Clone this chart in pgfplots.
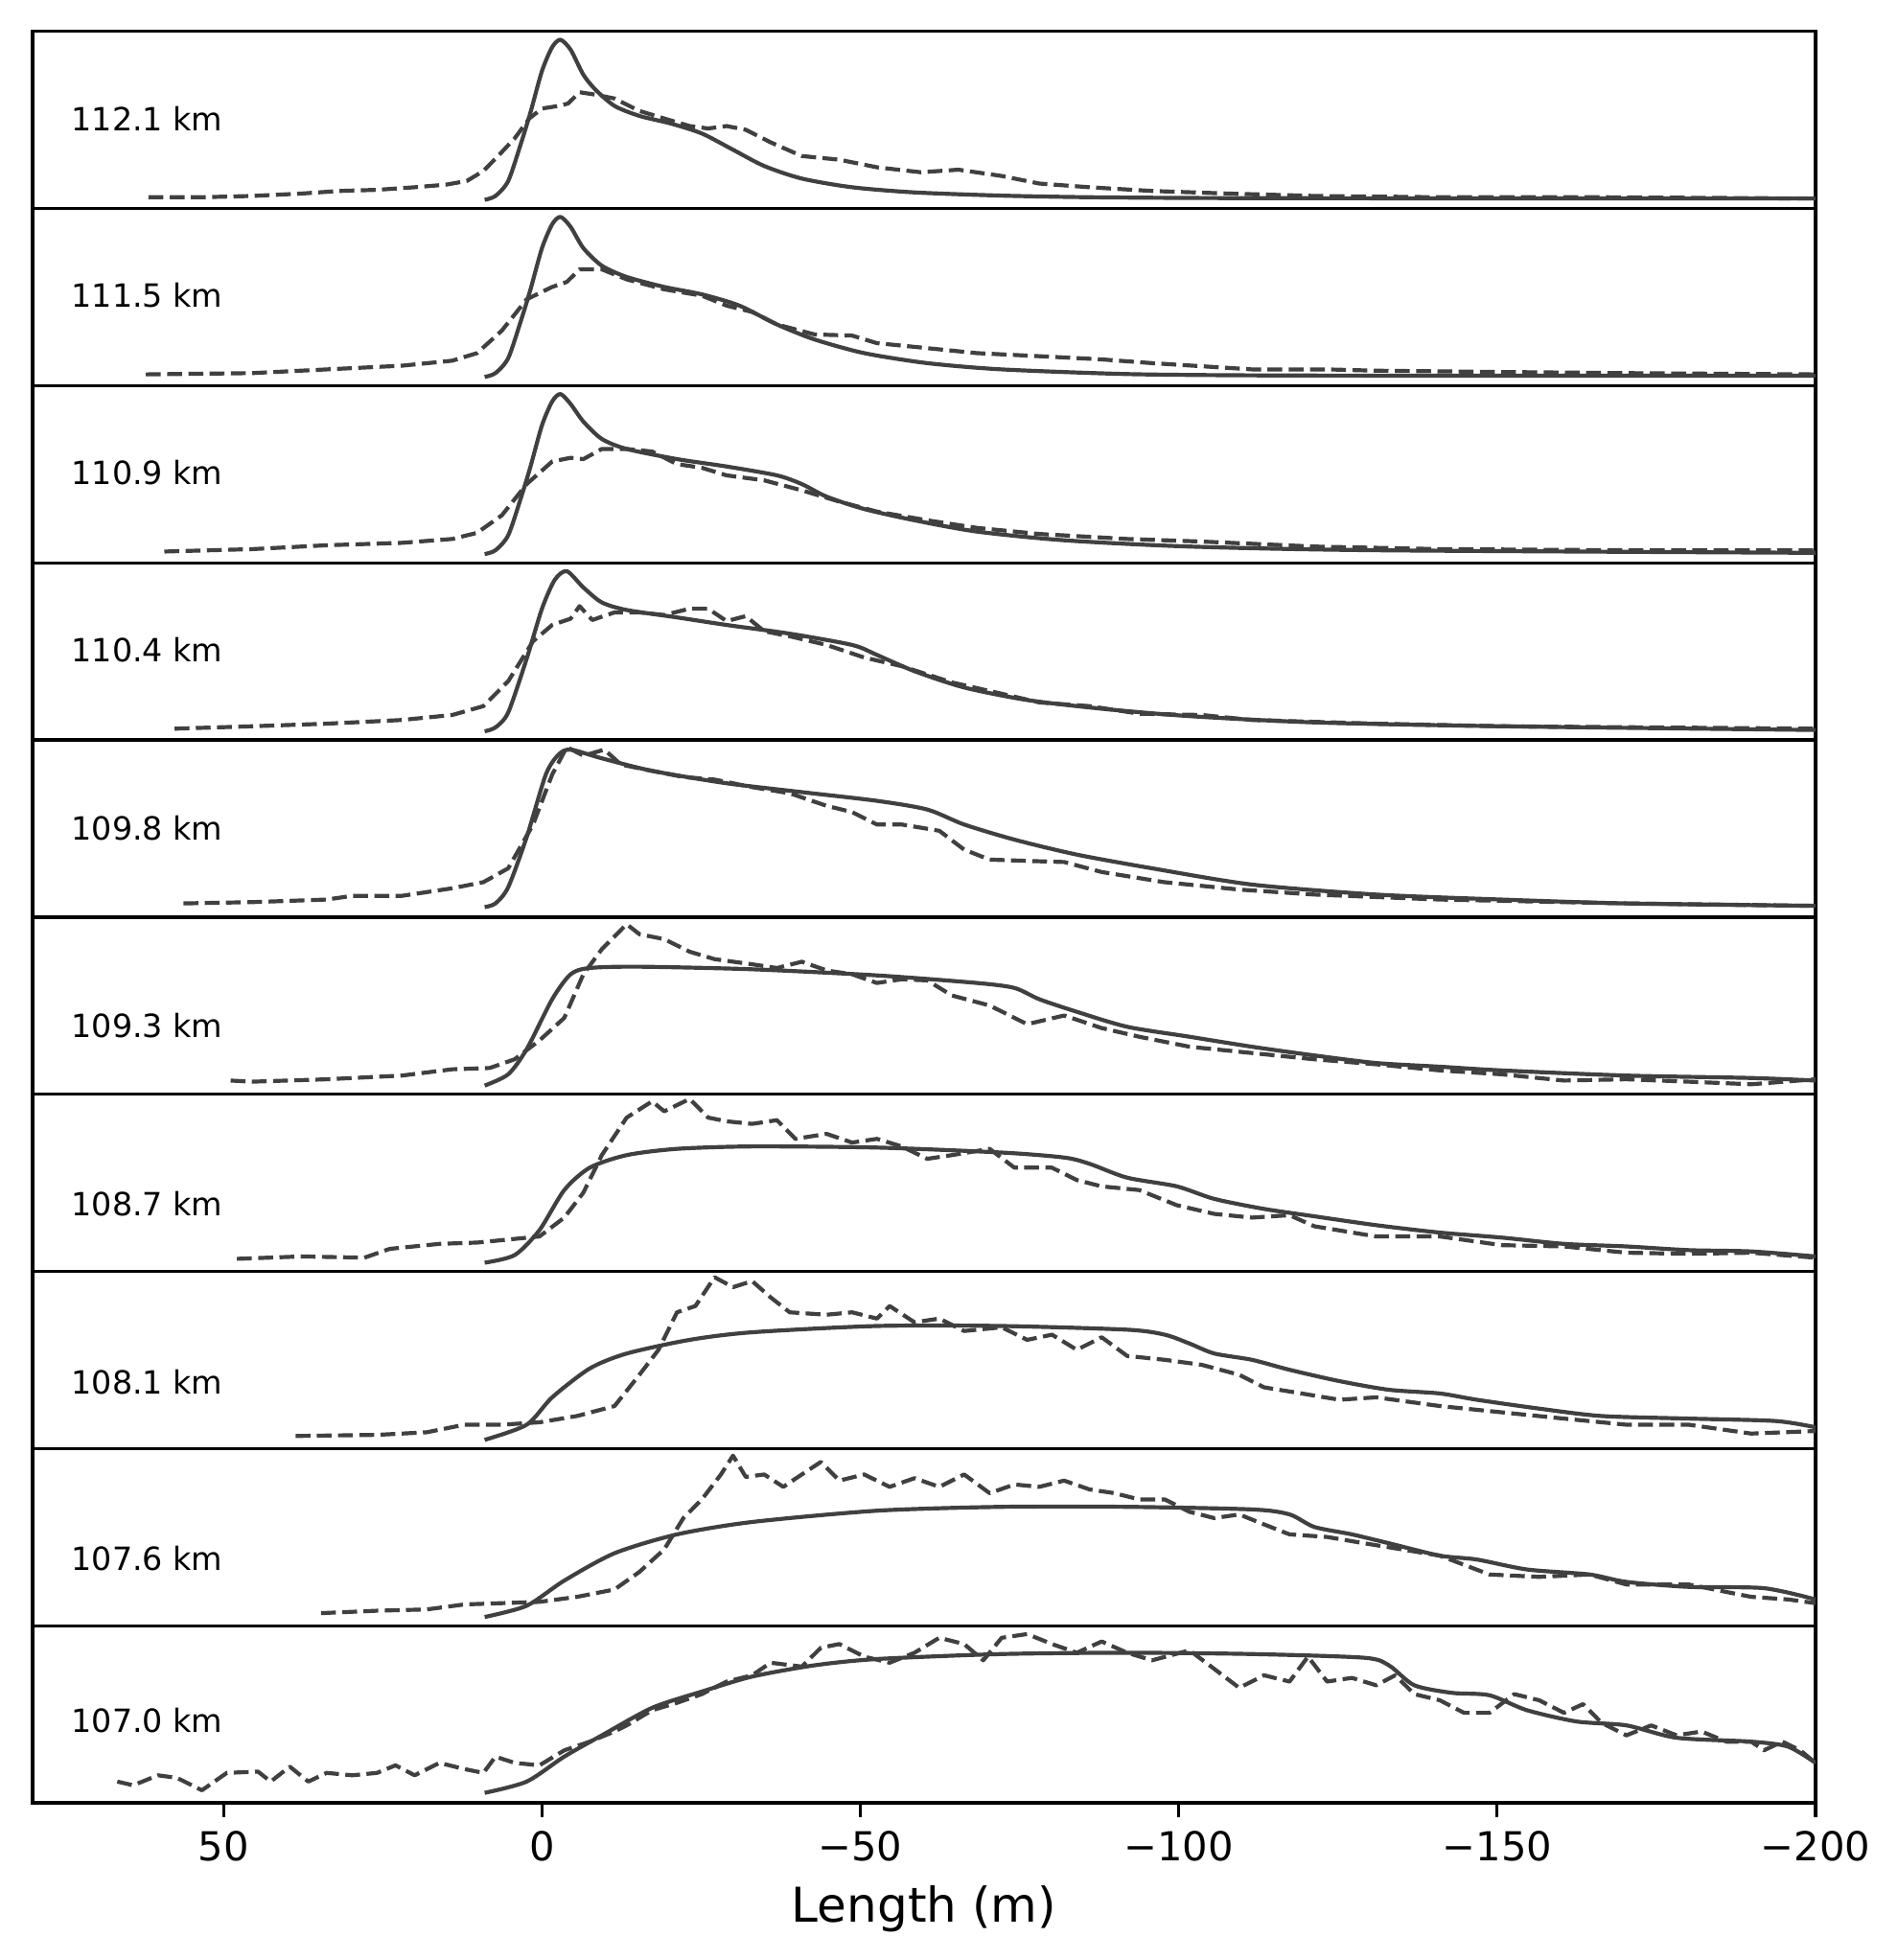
\documentclass[border=0pt]{standalone}
\usepackage{fontspec}
\setmainfont{DejaVu Sans}
\usepackage{pgfplots}
\pgfplotsset{compat=1.18}
\newcommand{\labfont}{\fontsize{8}{9.6}\selectfont}
\tikzset{lab/.style={anchor=west, inner sep=0pt, font=\labfont, text=black}}
\pgfplotsset{
  panel/.style={width=446.4pt, height=44.36pt, scale only axis,
    xmin=-200, xmax=80, x dir=reverse, ymin=-0.05, ymax=1.05,
    xtick=\empty, ytick=\empty, axis line style={line width=0.8bp, black},
    anchor=north west},
  sol/.style={color=black!75, line width=1bp, line join=round, mark=none, smooth, tension=0.45},
  das/.style={color=black!75, line width=1bp, line join=round, mark=none, dash pattern=on 3.7bp off 1.6bp}
}
\begin{document}
\begin{tikzpicture}
\begin{pgfinterruptboundingbox}
% ---------- 112.1 km
\begin{axis}[panel, at={(0pt,0pt)}]
\addplot[sol] coordinates {(9.0,0.004)(7.3,0.028)(5.3,0.121)(3.3,0.354)(1.8,0.548)(0,0.804)(-1.6,0.952)(-2.9,0.998)(-4.5,0.936)(-6.5,0.781)(-8.4,0.688)(-11.4,0.587)(-15.3,0.525)(-20.2,0.478)(-25.1,0.416)(-30,0.315)(-34.9,0.214)(-40.8,0.136)(-48.7,0.082)(-58.5,0.050)(-72.2,0.030)(-86,0.020)(-105,0.015)(-140,0.013)(-200,0.012)};
\addplot[das] coordinates {(61.8,0.020)(53.4,0.020)(45.5,0.028)(37.7,0.043)(31.8,0.059)(25.9,0.066)(20,0.082)(15.1,0.098)(11.8,0.121)(9.2,0.183)(6.9,0.276)(4.3,0.385)(2,0.509)(0,0.571)(-2.6,0.587)(-4.1,0.602)(-5.9,0.672)(-8.4,0.657)(-11.4,0.633)(-15.3,0.556)(-19.2,0.509)(-23.2,0.462)(-26.1,0.447)(-29,0.462)(-32,0.439)(-35.9,0.361)(-40.8,0.276)(-46.7,0.253)(-52.6,0.206)(-59.5,0.175)(-65.4,0.191)(-72.2,0.152)(-78.1,0.105)(-86,0.082)(-95.8,0.059)(-107.6,0.043)(-121.3,0.028)(-141,0.020)(-166.4,0.020)(-200,0.012)};
\node[lab] at (axis cs:74,0.51) {112.1 km};
\end{axis}
% ---------- 111.5 km
\begin{axis}[panel, at={(0pt,-44.36pt)}]
\addplot[sol] coordinates {(9.0,0.004)(7.3,0.028)(5.3,0.121)(3.3,0.354)(1.8,0.548)(0,0.804)(-1.6,0.952)(-2.9,0.998)(-4.5,0.936)(-6.5,0.804)(-9.4,0.695)(-13.3,0.625)(-19.2,0.563)(-25.1,0.517)(-31,0.447)(-36.9,0.330)(-42.8,0.237)(-50.6,0.152)(-60.5,0.090)(-72.2,0.051)(-91.9,0.022)(-111.5,0.014)(-140,0.012)(-200,0.012)};
\addplot[das] coordinates {(62.2,0.020)(45.5,0.028)(33.8,0.051)(22,0.074)(14.1,0.105)(10.2,0.152)(6.3,0.292)(2.4,0.486)(-1.6,0.563)(-3.9,0.594)(-5.9,0.672)(-9.4,0.672)(-13.3,0.610)(-19.2,0.548)(-25.1,0.509)(-29,0.447)(-33,0.408)(-36.9,0.330)(-42.8,0.268)(-48.7,0.261)(-52.6,0.214)(-60.5,0.183)(-68.3,0.152)(-80.1,0.129)(-87.9,0.113)(-95.8,0.090)(-111.5,0.051)(-123.3,0.051)(-131,0.043)(-150.7,0.035)(-170.3,0.028)(-200,0.020)};
\node[lab] at (axis cs:74,0.51) {111.5 km};
\end{axis}
% ---------- 110.9 km
\begin{axis}[panel, at={(0pt,-88.72pt)}]
\addplot[sol] coordinates {(9.0,0.004)(7.3,0.028)(5.3,0.121)(3.3,0.354)(1.8,0.548)(0,0.804)(-1.6,0.952)(-2.9,0.998)(-4.5,0.936)(-6.5,0.827)(-9.4,0.719)(-13.3,0.657)(-21.2,0.594)(-29,0.548)(-36.9,0.493)(-40.8,0.439)(-44.7,0.361)(-50.6,0.284)(-58.5,0.214)(-68.3,0.144)(-82,0.090)(-101.7,0.051)(-131,0.028)(-200,0.012)};
\addplot[das] coordinates {(59.3,0.020)(45.5,0.035)(33.8,0.059)(22,0.074)(14.1,0.098)(10.2,0.136)(6.3,0.245)(2.4,0.439)(-1.6,0.579)(-4.5,0.602)(-6.5,0.594)(-9.4,0.657)(-13.3,0.657)(-17.3,0.641)(-21.2,0.563)(-25.1,0.540)(-29,0.493)(-34.9,0.462)(-40.8,0.400)(-46.7,0.330)(-52.6,0.268)(-60.5,0.214)(-68.3,0.167)(-78.1,0.129)(-91.9,0.098)(-103.6,0.082)(-121.3,0.051)(-141,0.035)(-170.3,0.028)(-200,0.028)};
\node[lab] at (axis cs:74,0.51) {110.9 km};
\end{axis}
% ---------- 110.4 km
\begin{axis}[panel, at={(0pt,-133.08pt)}]
\addplot[sol] coordinates {(9.0,0.004)(7.3,0.028)(5.3,0.121)(2.4,0.455)(0,0.765)(-2,0.944)(-3.9,0.998)(-6.5,0.897)(-9.4,0.804)(-13.3,0.757)(-21.2,0.711)(-29,0.664)(-38.9,0.610)(-48.7,0.540)(-52.6,0.478)(-58.5,0.377)(-66.3,0.276)(-76.2,0.198)(-87.9,0.144)(-101.7,0.098)(-121.3,0.059)(-150.7,0.035)(-200,0.012)};
\addplot[das] coordinates {(57.7,0.020)(45.5,0.035)(33.8,0.051)(22,0.074)(14.1,0.105)(9.2,0.160)(5.3,0.315)(1.4,0.563)(-1.6,0.664)(-4.5,0.703)(-5.9,0.781)(-7.9,0.695)(-11.4,0.742)(-15.3,0.742)(-19.2,0.726)(-23.2,0.765)(-26.1,0.765)(-29,0.688)(-32,0.719)(-34.9,0.625)(-38.9,0.594)(-44.7,0.540)(-50.6,0.462)(-56.5,0.408)(-64.4,0.307)(-72.2,0.237)(-78.1,0.183)(-86,0.160)(-93.8,0.113)(-103.6,0.105)(-111.5,0.074)(-131,0.051)(-150.7,0.035)(-200,0.020)};
\node[lab] at (axis cs:74,0.51) {110.4 km};
\end{axis}
% ---------- 109.8 km
\begin{axis}[panel, at={(0pt,-177.44pt)}]
\addplot[sol] coordinates {(9.0,0.012)(7.3,0.035)(5.3,0.136)(2.4,0.447)(-0.6,0.835)(-2.6,0.959)(-4.5,0.990)(-9.4,0.936)(-17.3,0.858)(-29,0.781)(-40.8,0.726)(-52.6,0.672)(-60.5,0.618)(-66.3,0.525)(-74.2,0.431)(-84,0.338)(-95.8,0.253)(-111.5,0.152)(-131,0.090)(-150.7,0.059)(-170.3,0.035)(-200,0.020)};
\addplot[das] coordinates {(56.3,0.035)(45.5,0.043)(33.8,0.059)(29.8,0.082)(22,0.082)(14.1,0.129)(9.2,0.167)(5.3,0.253)(1.4,0.525)(-1.6,0.835)(-3.9,1.006)(-6.5,0.952)(-9.8,0.990)(-12.4,0.897)(-17.3,0.858)(-22.2,0.820)(-27.1,0.804)(-33,0.757)(-38.9,0.719)(-44.7,0.641)(-48.7,0.602)(-52.6,0.525)(-56.5,0.525)(-62.4,0.486)(-66.3,0.369)(-70.3,0.307)(-76.2,0.299)(-82,0.292)(-87.9,0.230)(-97.7,0.167)(-109.5,0.121)(-121.3,0.090)(-141,0.059)(-170.3,0.035)(-200,0.020)};
\node[lab] at (axis cs:74,0.50) {109.8 km};
\end{axis}
% ---------- 109.3 km
\begin{axis}[panel, at={(0pt,-221.80pt)}]
\addplot[sol] coordinates {(9.0,0.004)(5.3,0.074)(2.4,0.230)(-1.6,0.540)(-4.5,0.695)(-7.5,0.734)(-15.3,0.742)(-33,0.726)(-52.6,0.688)(-68.3,0.641)(-74.2,0.610)(-78.1,0.540)(-84,0.462)(-91.9,0.369)(-101.7,0.307)(-111.5,0.245)(-121.3,0.191)(-131,0.144)(-141,0.121)(-150.7,0.098)(-170.3,0.066)(-189.9,0.051)(-200,0.035)};
\addplot[das] coordinates {(48.9,0.035)(45.5,0.028)(33.8,0.043)(22,0.066)(14.1,0.105)(8.2,0.113)(4.3,0.167)(0.4,0.284)(-3.5,0.424)(-6.5,0.695)(-9.4,0.851)(-13.3,1.006)(-15.3,0.944)(-19.2,0.913)(-23.2,0.835)(-27.1,0.789)(-33,0.757)(-36.9,0.734)(-40.8,0.773)(-44.7,0.719)(-48.7,0.695)(-52.6,0.641)(-56.5,0.664)(-60.5,0.657)(-64.4,0.563)(-70.3,0.501)(-76.2,0.385)(-82,0.439)(-87.9,0.361)(-93.8,0.307)(-101.7,0.245)(-111.5,0.206)(-121.3,0.167)(-131,0.136)(-141,0.098)(-150.7,0.074)(-160.5,0.035)(-170.3,0.043)(-180.1,0.028)(-189.9,0.012)(-200,0.043)};
\node[lab] at (axis cs:74,0.379) {109.3 km};
\end{axis}
% ---------- 108.7 km
\begin{axis}[panel, at={(0pt,-266.16pt)}]
\addplot[sol] coordinates {(9.0,0.004)(4.3,0.051)(0.4,0.206)(-3.5,0.455)(-7.5,0.594)(-13.3,0.672)(-21.2,0.711)(-33,0.726)(-52.6,0.719)(-72.2,0.688)(-82,0.657)(-86,0.618)(-91.9,0.532)(-99.7,0.478)(-105.6,0.400)(-113.4,0.338)(-121.3,0.292)(-131,0.237)(-141,0.191)(-150.7,0.160)(-160.5,0.121)(-170.3,0.105)(-180.1,0.082)(-189.9,0.074)(-200,0.043)};
\addplot[das] coordinates {(47.9,0.028)(37.7,0.043)(27.9,0.035)(23.9,0.090)(16.1,0.121)(10.2,0.129)(6.3,0.144)(0.4,0.167)(-3.5,0.284)(-6.5,0.439)(-9.4,0.672)(-13.3,0.905)(-17.3,1.006)(-19.2,0.944)(-23.2,1.021)(-26.1,0.905)(-29,0.882)(-33,0.866)(-36.9,0.889)(-39.8,0.773)(-44.7,0.804)(-48.7,0.750)(-52.6,0.773)(-56.5,0.726)(-60.5,0.649)(-64.4,0.672)(-70.3,0.711)(-74.2,0.594)(-80.1,0.594)(-84,0.517)(-87.9,0.478)(-93.8,0.455)(-99.7,0.361)(-105.6,0.307)(-111.5,0.284)(-117.4,0.299)(-121.3,0.230)(-131,0.167)(-141,0.167)(-150.7,0.113)(-160.5,0.105)(-170.3,0.066)(-180.1,0.059)(-189.9,0.066)(-200,0.035)};
\node[lab] at (axis cs:74,0.367) {108.7 km};
\end{axis}
% ---------- 108.1 km
\begin{axis}[panel, at={(0pt,-310.52pt)}]
\addplot[sol] coordinates {(9.0,0.004)(2.4,0.098)(-1.6,0.268)(-7.5,0.447)(-13.3,0.540)(-23.2,0.625)(-33,0.672)(-52.6,0.711)(-72.2,0.711)(-91.9,0.688)(-97.8,0.657)(-101.7,0.602)(-105.6,0.540)(-111.5,0.501)(-117.4,0.439)(-125.2,0.369)(-133,0.315)(-141,0.292)(-146.8,0.253)(-156.6,0.198)(-166.4,0.152)(-180.1,0.136)(-193.7,0.121)(-200,0.082)};
\addplot[das] coordinates {(38.7,0.028)(25.9,0.035)(18.1,0.051)(12.2,0.098)(6.3,0.098)(0.4,0.113)(-5.5,0.152)(-11.4,0.214)(-15.3,0.408)(-18.3,0.563)(-21.2,0.796)(-24.1,0.835)(-27.1,1.014)(-30,0.952)(-33,0.990)(-35.9,0.889)(-38.9,0.796)(-44.7,0.781)(-48.7,0.796)(-52.6,0.757)(-54.6,0.835)(-58.5,0.734)(-62.4,0.757)(-66.3,0.680)(-72.2,0.703)(-76.2,0.625)(-80.1,0.657)(-84,0.563)(-87.9,0.641)(-91.9,0.525)(-97.8,0.501)(-103.6,0.470)(-109.5,0.408)(-113.4,0.330)(-119.3,0.292)(-125.2,0.253)(-131,0.268)(-141,0.214)(-150.7,0.175)(-160.5,0.136)(-170.3,0.098)(-180.1,0.098)(-189.9,0.043)(-200,0.059)};
\node[lab] at (axis cs:74,0.363) {108.1 km};
\end{axis}
% ---------- 107.6 km
\begin{axis}[panel, at={(0pt,-354.88pt)}]
\addplot[sol] coordinates {(9.0,0.004)(2.4,0.074)(-3.5,0.230)(-11.4,0.400)(-21.2,0.517)(-33,0.594)(-52.6,0.664)(-72.2,0.688)(-91.9,0.688)(-111.5,0.672)(-117.4,0.641)(-121.3,0.563)(-127.2,0.517)(-133,0.462)(-141,0.385)(-146.8,0.361)(-154.7,0.299)(-164.5,0.268)(-170.3,0.222)(-180.1,0.191)(-191.9,0.183)(-200,0.113)};
\addplot[das] coordinates {(34.7,0.028)(25.9,0.043)(18.1,0.051)(12.2,0.082)(6.3,0.090)(0.4,0.098)(-5.5,0.129)(-11.4,0.175)(-15.3,0.284)(-19.2,0.424)(-22.2,0.618)(-25.1,0.734)(-28.1,0.889)(-30,1.006)(-32,0.874)(-34.9,0.889)(-37.9,0.812)(-40.8,0.889)(-43.8,0.967)(-46.7,0.851)(-50.6,0.889)(-54.6,0.812)(-58.5,0.866)(-62.4,0.812)(-66.3,0.889)(-70.3,0.773)(-74.2,0.827)(-78.1,0.812)(-82,0.851)(-86,0.796)(-89.9,0.773)(-93.8,0.734)(-97.8,0.734)(-101.7,0.657)(-105.6,0.618)(-109.5,0.641)(-113.4,0.579)(-117.4,0.517)(-123.3,0.501)(-129.1,0.462)(-135,0.424)(-141,0.385)(-148.8,0.268)(-156.6,0.253)(-164.5,0.268)(-170.3,0.206)(-180.1,0.206)(-189.9,0.129)(-195.7,0.113)(-200,0.090)};
\node[lab] at (axis cs:74,0.366) {107.6 km};
\end{axis}
% ---------- 107.0 km
\begin{axis}[panel, at={(0pt,-399.24pt)},
  xtick={50,0,-50,-100,-150,-200},
  xticklabels={50,0,−50,−100,−150,−200},
  xtick pos=left, tick align=outside, major tick length=3.5bp,
  every tick/.style={line width=0.8bp, black},
  xticklabel style={font=\fontsize{10}{12}\selectfont, anchor=base, inner sep=0pt, yshift=-10.9pt},
  xlabel={Length (m)},
  xlabel style={font=\fontsize{12}{14.4}\selectfont, at={(axis description cs:0.5,0)}, anchor=base, inner sep=0pt, yshift=-29.8pt}]
\addplot[sol] coordinates {(9.0,0.012)(2.4,0.082)(-3.5,0.237)(-9.4,0.369)(-17.3,0.540)(-25.1,0.641)(-33,0.734)(-42.8,0.804)(-52.6,0.843)(-72.2,0.874)(-91.9,0.882)(-111.5,0.874)(-129.1,0.851)(-133,0.804)(-137,0.680)(-142.9,0.633)(-148.8,0.618)(-154.7,0.525)(-162.5,0.455)(-170.3,0.431)(-178.2,0.354)(-189.9,0.330)(-195.7,0.299)(-200,0.198)};
\addplot[das] coordinates {(66.7,0.082)(64.2,0.059)(60.3,0.121)(57.3,0.105)(53.4,0.028)(49.5,0.136)(44.6,0.144)(42.6,0.082)(39.6,0.175)(36.7,0.082)(33.8,0.136)(29.8,0.121)(25.9,0.136)(23,0.183)(20,0.121)(16.1,0.198)(12.2,0.160)(9.2,0.136)(7.3,0.237)(4.3,0.198)(0.4,0.183)(-3.5,0.276)(-7.5,0.330)(-11.4,0.393)(-13.3,0.431)(-17.3,0.525)(-21.2,0.571)(-25.1,0.625)(-29,0.703)(-33,0.742)(-35.9,0.820)(-40.8,0.796)(-43.8,0.913)(-46.7,0.936)(-50.6,0.858)(-54.6,0.820)(-58.5,0.882)(-62.4,0.975)(-66.3,0.936)(-69.3,0.835)(-72.2,0.975)(-76.2,0.998)(-80.1,0.936)(-84,0.882)(-87.9,0.952)(-91.9,0.882)(-95.8,0.835)(-101.7,0.897)(-105.6,0.781)(-109.5,0.664)(-113.4,0.742)(-117.4,0.703)(-120.3,0.858)(-123.3,0.703)(-127.2,0.726)(-131,0.680)(-134,0.742)(-137,0.625)(-141,0.587)(-144.8,0.509)(-148.8,0.509)(-152.7,0.625)(-156.6,0.587)(-160.5,0.509)(-163.5,0.563)(-166.4,0.447)(-170.3,0.369)(-174.2,0.431)(-178.2,0.369)(-182.1,0.393)(-186,0.330)(-189.9,0.330)(-191.9,0.276)(-194.8,0.330)(-197.6,0.276)(-200,0.198)};
\node[lab] at (axis cs:74,0.463) {107.0 km};
\end{axis}
\end{pgfinterruptboundingbox}
\path (-8.16pt,-482.96pt) rectangle (467.04pt,7.85pt);
\end{tikzpicture}
\end{document}
